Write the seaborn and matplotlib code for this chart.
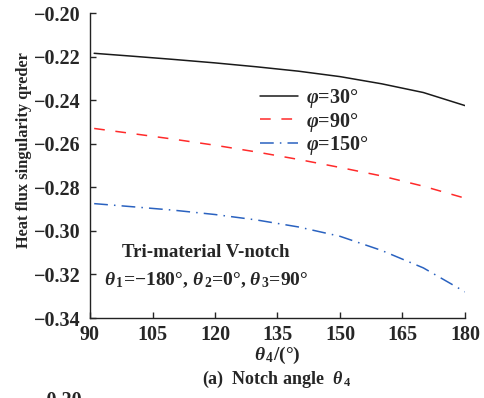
import numpy as np
import pandas as pd
import matplotlib
matplotlib.use("Agg")
import matplotlib.pyplot as plt
import seaborn as sns

theta4 = [91, 100, 110, 120, 130, 140, 150, 160, 170, 180]
phi30 = [-0.2185, -0.2198, -0.2213, -0.2229, -0.2247, -0.2267, -0.2292, -0.2325, -0.2365, -0.2425]
phi90 = [-0.2530, -0.2553, -0.2579, -0.2607, -0.2638, -0.2672, -0.2709, -0.2748, -0.2795, -0.2850]
phi150 = [-0.2875, -0.2889, -0.2905, -0.2925, -0.2950, -0.2982, -0.3025, -0.3090, -0.3170, -0.3280]
labels = ["φ=30°", "φ=90°", "φ=150°"]
xticks = [90, 105, 120, 135, 150, 165, 180]
yticks = [-0.20, -0.22, -0.24, -0.26, -0.28, -0.30, -0.32, -0.34]

df = pd.DataFrame({
    "theta4": theta4 * 3,
    "value": phi30 + phi90 + phi150,
    "phi": [labels[0]] * len(theta4) + [labels[1]] * len(theta4) + [labels[2]] * len(theta4),
})

sns.set_theme(style="ticks")
plt.rcParams["font.family"] = ["Liberation Serif", "DejaVu Serif"]
plt.rcParams["mathtext.fontset"] = "custom"
plt.rcParams["mathtext.it"] = "Liberation Serif:italic:bold"
plt.rcParams["mathtext.rm"] = "Liberation Serif:bold"
plt.rcParams["mathtext.bf"] = "Liberation Serif:bold"

fig = plt.figure(figsize=(4.85, 3.98), dpi=100)
ax = fig.add_axes([90 / 485, 1 - 318 / 398, 375 / 485, 305 / 398])

palette = {labels[0]: "#1a1a1a", labels[1]: "#ff2a2a", labels[2]: "#2a62c0"}
dashes = {labels[0]: "", labels[1]: (7, 7), labels[2]: (9, 4, 1, 4)}
sns.lineplot(data=df, x="theta4", y="value", hue="phi", style="phi",
             palette=palette, dashes=dashes, linewidth=1.1, ax=ax, legend=True)

ax.set_xlim(90, 180)
ax.set_ylim(-0.34, -0.20)
ax.set_xticks(xticks)
ax.set_yticks(yticks)
ax.set_xticklabels([str(t) for t in xticks])
ax.set_yticklabels([f"{t:.2f}".replace("-", "−") for t in yticks])
ax.tick_params(direction="in", length=4, width=1, labelsize=14.5)
ax.tick_params(axis="y", pad=7)
ax.tick_params(axis="x", pad=5)
for lab in ax.get_xticklabels() + ax.get_yticklabels():
    lab.set_fontweight("bold")
for s in ["top", "right"]:
    ax.spines[s].set_visible(False)
for s in ["left", "bottom"]:
    ax.spines[s].set_linewidth(1.0)
    ax.spines[s].set_color("#222222")

ax.set_xlabel("")
ax.set_ylabel("Heat flux singularity qreder", fontsize=11.8, fontweight="bold")
ax.yaxis.set_label_coords(-0.155, 0.55)

handles, _ = ax.get_legend_handles_labels()
leg_labels = [r"$\varphi$=30°", r"$\varphi$=90°", r"$\varphi$=150°"]
leg = ax.legend(handles, leg_labels, loc="upper left", bbox_to_anchor=(0.453, 0.757),
                frameon=False, fontsize=14.5, handlelength=1.9, handletextpad=0.4,
                labelspacing=0.02, borderaxespad=0, borderpad=0)
for t in leg.get_texts():
    t.set_fontweight("bold")

ax.text(0.31, 0.216, "Tri-material V-notch", transform=ax.transAxes,
        ha="center", va="center", fontsize=13.6, fontweight="bold")
ax.text(0.31, 0.125, r"$\theta_{\,1}$=−180°, $\theta_{\,2}$=0°, $\theta_{\,3}$=90°",
        transform=ax.transAxes, ha="center", va="center", fontsize=14, fontweight="bold")

fig.text(277 / 485, 1 - 355 / 398, r"$\theta_{\,4}$/(°)", ha="center", va="center",
         fontsize=14, fontweight="bold")
fig.text(277 / 485, 1 - 379 / 398, r"(a)  Notch angle  $\theta_{\,4}$", ha="center", va="center",
         fontsize=13, fontweight="bold")
fig.text(83 / 485, 1 - 391 / 398, "−0.20", ha="right", va="top",
         fontsize=14.5, fontweight="bold")

fig.savefig("out.png", dpi=100)
